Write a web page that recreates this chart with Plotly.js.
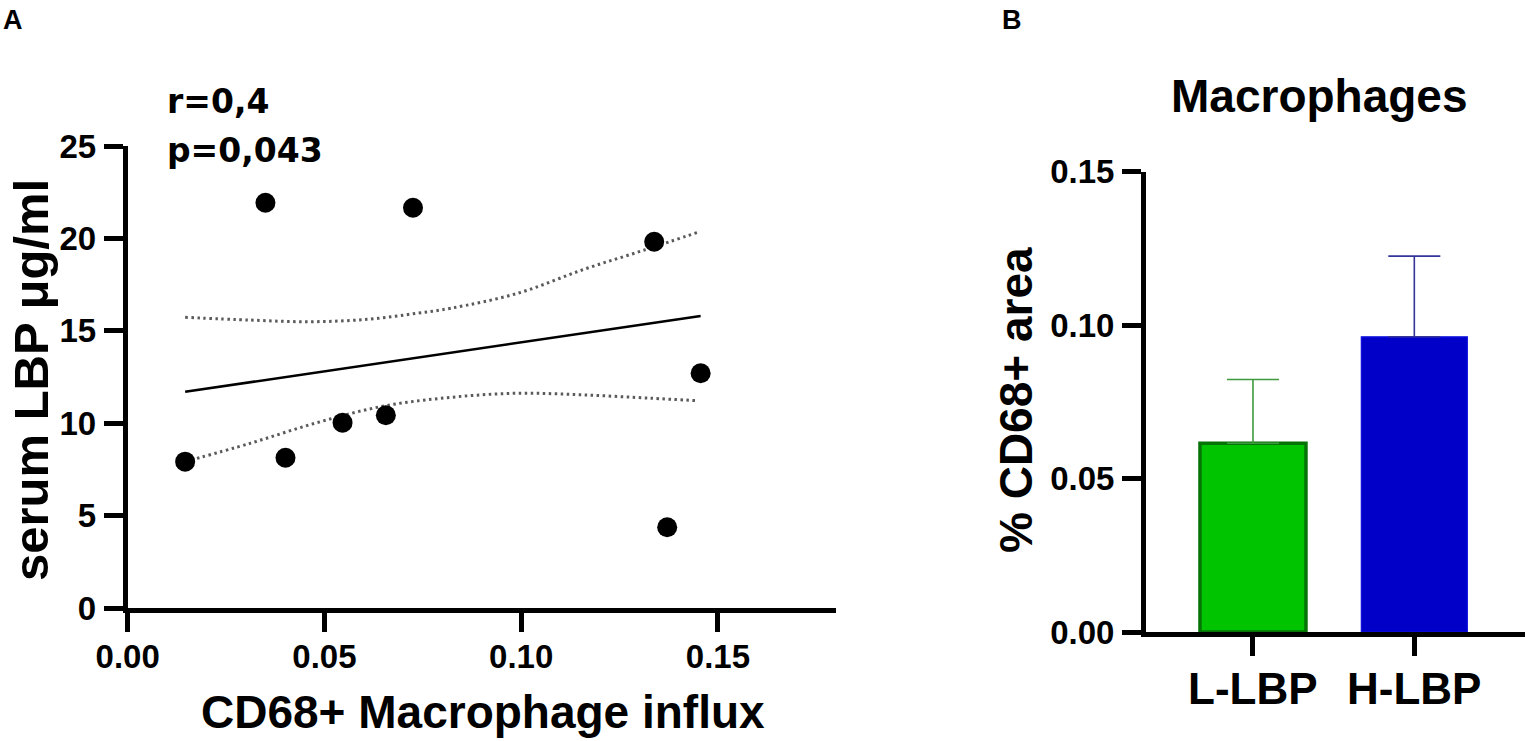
<!DOCTYPE html>
<html>
<head>
<meta charset="utf-8">
<script src="https://cdn.plot.ly/plotly-3.0.1.min.js"></script>
<style>
  html, body { margin: 0; padding: 0; background: #ffffff; }
  #chart { width: 1525px; height: 741px; }
</style>
</head>
<body>
<div id="chart"></div>
<script>
// ---------- Panel A data: CD68+ macrophage influx vs serum LBP ----------
const influx = [0.0146, 0.0350, 0.0401, 0.0546, 0.0656, 0.0725, 0.1338, 0.1371, 0.1456];
const serumLBP = [7.92, 21.93, 8.13, 10.03, 10.43, 21.66, 19.82, 4.37, 12.70];

// regression line
const fitX = [0.0146, 0.1456];
const fitY = [11.70, 15.80];

// 95% confidence band
const upperX = [0.0146, 0.0311, 0.0464, 0.0608, 0.0736, 0.0821, 0.0991, 0.1160, 0.1313, 0.1453];
const upperY = [15.73, 15.58, 15.49, 15.62, 15.95, 16.22, 17.03, 18.33, 19.37, 20.36];
const lowerX = [0.0146, 0.0311, 0.0481, 0.0651, 0.0821, 0.0991, 0.1160, 0.1329, 0.1445];
const lowerY = [7.92, 8.91, 10.03, 10.93, 11.40, 11.62, 11.53, 11.35, 11.22];

const statR = "r=0,4";
const statP = "p=0,043";

// ---------- Panel B data: Macrophages ----------
const groups = ["L-LBP", "H-LBP"];
const cd68Area = [0.0615, 0.0962];
const cd68Err = [0.0208, 0.0263];

const xTicksA = [0, 0.05, 0.10, 0.15];
const yTicksA = [0, 5, 10, 15, 20, 25];
const yTicksB = [0, 0.05, 0.10, 0.15];

// ---------- layout helpers (pixel -> paper) ----------
const W = 1525, H = 741;
const px = v => v / W;
const py = v => 1 - v / H;

const arial = "Liberation Sans, Arial, sans-serif";
const dejavu = "DejaVu Sans, Verdana, sans-serif";

const traces = [
  { x: upperX, y: upperY, type: "scatter", mode: "lines", xaxis: "x", yaxis: "y",
    line: { color: "#5a5a5a", width: 3, dash: "2.5px,3.5px", shape: "spline" }, hoverinfo: "skip" },
  { x: lowerX, y: lowerY, type: "scatter", mode: "lines", xaxis: "x", yaxis: "y",
    line: { color: "#5a5a5a", width: 3, dash: "2.5px,3.5px", shape: "spline" }, hoverinfo: "skip" },
  { x: fitX, y: fitY, type: "scatter", mode: "lines", xaxis: "x", yaxis: "y",
    line: { color: "#000000", width: 2.5 } },
  { x: influx, y: serumLBP, type: "scatter", mode: "markers", xaxis: "x", yaxis: "y",
    marker: { color: "#000000", size: 20 }, cliponaxis: false },
  { x: groups, y: cd68Area, type: "bar", xaxis: "x2", yaxis: "y2", width: 0.657,
    marker: { color: ["#00C400", "#0000C8"], line: { color: ["#067306", "#1010E0"], width: [3.5, 1.2] } } },
  { x: [groups[0]], y: [cd68Area[0]], type: "scatter", mode: "none", xaxis: "x2", yaxis: "y2",
    error_y: { type: "data", symmetric: false, array: [cd68Err[0]], arrayminus: [0],
      color: "#3f9a3f", thickness: 1.6, width: 26 }, cliponaxis: false },
  { x: [groups[1]], y: [cd68Area[1]], type: "scatter", mode: "none", xaxis: "x2", yaxis: "y2",
    error_y: { type: "data", symmetric: false, array: [cd68Err[1]], arrayminus: [0],
      color: "#34349a", thickness: 1.6, width: 26 }, cliponaxis: false }
];

const axisCommon = {
  showline: true, linecolor: "#000000", linewidth: 5,
  ticks: "outside", ticklen: 19, tickwidth: 5, tickcolor: "#000000",
  showgrid: false, zeroline: false, fixedrange: true,
  tickfont: { family: arial, size: 33, color: "#000000", weight: "bold" }
};

const catFont = { family: arial, size: 44, color: "#000", weight: "bold" };

const layout = {
  width: W, height: H,
  margin: { l: 0, r: 0, t: 0, b: 0 },
  paper_bgcolor: "#ffffff", plot_bgcolor: "rgba(0,0,0,0)",
  showlegend: false,
  xaxis: Object.assign({}, axisCommon, {
    domain: [px(127.7), px(836)], range: [0, 0.18], anchor: "y",
    tickvals: xTicksA, tickformat: ".2f", ticklabelstandoff: -4
  }),
  yaxis: Object.assign({}, axisCommon, {
    domain: [py(608), py(146)], range: [0, 25], anchor: "x",
    tickvals: yTicksA, ticklabelstandoff: 1
  }),
  xaxis2: Object.assign({}, axisCommon, {
    domain: [px(1146), 1], range: [-0.663, 1.686], anchor: "y2",
    type: "category", showticklabels: false
  }),
  yaxis2: Object.assign({}, axisCommon, {
    domain: [py(632), py(171.7)], range: [0, 0.15], anchor: "x2",
    tickvals: yTicksB, tickformat: ".2f", ticklabelstandoff: 1
  }),
  annotations: [
    { text: "A", xref: "paper", yref: "paper", x: px(1), y: py(3), xanchor: "left", yanchor: "top",
      showarrow: false, font: { family: arial, size: 27, color: "#000", weight: "bold" } },
    { text: "B", xref: "paper", yref: "paper", x: px(1000), y: py(3), xanchor: "left", yanchor: "top",
      showarrow: false, font: { family: arial, size: 27, color: "#000", weight: "bold" } },
    { text: statR, xref: "paper", yref: "paper", x: px(165), y: py(101), xanchor: "left", yanchor: "middle",
      showarrow: false, font: { family: dejavu, size: 33, color: "#000", weight: "bold" } },
    { text: statP, xref: "paper", yref: "paper", x: px(165), y: py(150), xanchor: "left", yanchor: "middle",
      showarrow: false, font: { family: dejavu, size: 33, color: "#000", weight: "bold" } },
    { text: "serum LBP μg/ml", xref: "paper", yref: "paper", x: px(31), y: py(380), xanchor: "center", yanchor: "middle",
      textangle: -90, showarrow: false, font: { family: arial, size: 49, color: "#000", weight: "bold" } },
    { text: "CD68+ Macrophage influx", xref: "paper", yref: "paper", x: px(483), y: py(712), xanchor: "center", yanchor: "middle",
      showarrow: false, font: { family: arial, size: 46, color: "#000", weight: "bold" } },
    { text: "Macrophages", xref: "paper", yref: "paper", x: px(1319), y: py(96), xanchor: "center", yanchor: "middle",
      showarrow: false, font: { family: arial, size: 46, color: "#000", weight: "bold" } },
    { text: "% CD68+ area", xref: "paper", yref: "paper", x: px(1016), y: py(400), xanchor: "center", yanchor: "middle",
      textangle: -90, showarrow: false, font: { family: arial, size: 46, color: "#000", weight: "bold" } },
    { text: groups[0], xref: "x2", yref: "paper", x: groups[0], y: py(688), xanchor: "center", yanchor: "middle",
      showarrow: false, font: catFont },
    { text: groups[1], xref: "x2", yref: "paper", x: groups[1], y: py(688), xanchor: "center", yanchor: "middle",
      showarrow: false, font: catFont }
  ]
};

Plotly.newPlot("chart", traces, layout, { displayModeBar: false, staticPlot: true });
</script>
</body>
</html>
